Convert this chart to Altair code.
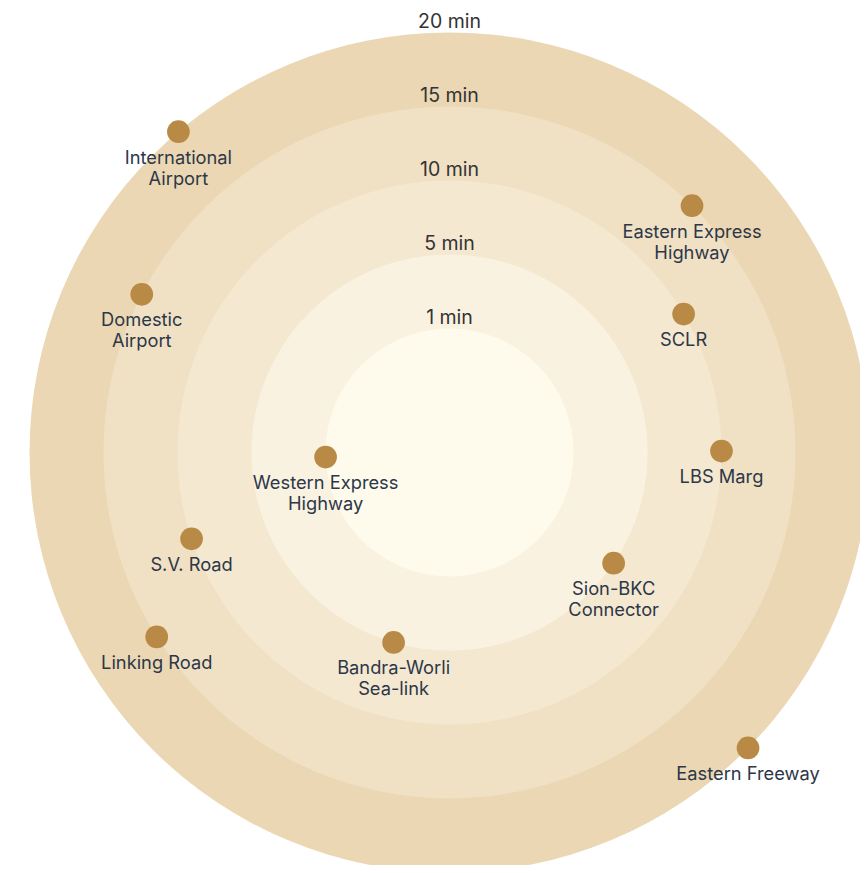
import altair as alt
import pandas as pd

# Rings (travel time bands), outermost first
ring_minutes = [20, 15, 10, 5, 1]
ring_colors = ["#EBD7B3", "#F0E1C5", "#F4E8D1", "#FAF2E0", "#FEFBEC"]

# Locations: name, travel time (min), bearing (degrees clockwise from north)
places = [
    "International\nAirport", "Domestic\nAirport", "Eastern Express\nHighway",
    "SCLR", "LBS Marg", "Sion-BKC\nConnector", "Western Express\nHighway",
    "S.V. Road", "Linking Road", "Bandra-Worli\nSea-link", "Eastern Freeway",
]
place_minutes = [20, 15, 15, 10, 10, 5, 1, 10, 15, 5, 20]
place_bearing = [319.8, 297.2, 44.5, 59.4, 89.7, 124.0, 267.9, 251.5, 237.8, 196.4, 134.7]

order = sorted(ring_minutes)
rank_of = {m: i + 1 for i, m in enumerate(order)}

rings = pd.DataFrame({
    "minutes": ring_minutes,
    "label": [f"{m} min" for m in ring_minutes],
    "rank": [rank_of[m] for m in ring_minutes],
    "color": ring_colors,
})
pts = pd.DataFrame({
    "place": places,
    "minutes": place_minutes,
    "rank": [rank_of[m] for m in place_minutes],
    "bearing": place_bearing,
})

W, H = 852, 857
CX, CY = 441.5, 444.5
R0, R5 = 50, 420          # radial scale range (pixels) for rank 0..5
STEP = (R5 - R0) / 5
rscale = alt.Scale(type="linear", domain=[0, 5], range=[R0, R5], zero=False)
tscale = alt.Scale(type="linear", domain=[0, 360], range=[0, 6.283185307])

base_xy = dict(x=alt.value(CX), y=alt.value(CY))

ring_layer = alt.Chart(rings).mark_arc(theta=0, theta2=6.2832).encode(
    radius=alt.Radius("rank:Q", scale=rscale, stack=False),
    radius2=alt.value(0),
    color=alt.Color("color:N", scale=None),
    **base_xy,
)

ring_text = alt.Chart(rings).mark_text(
    font="Inter", fontSize=19.5, color="#333333", baseline="alphabetic", dy=-5, align="center"
).encode(
    radius=alt.Radius("rank:Q", scale=rscale, stack=False),
    theta=alt.value(0),
    text="label:N",
    **base_xy,
)

# Dots: polar (rank, bearing) converted to cartesian in "rank units",
# mapped by x/y scales that share the radial step and center
xscale = alt.Scale(domain=[-CX / STEP, (W - CX) / STEP], range=[0, W], zero=False, nice=False)
yscale = alt.Scale(domain=[-(H - CY) / STEP, CY / STEP], range=[H, 0], zero=False, nice=False)

dots = alt.Chart(pts).transform_calculate(
    ur=f"datum.rank + {R0 / STEP}",
).transform_calculate(
    ux="datum.ur * sin(datum.bearing * PI / 180)",
    uy="datum.ur * cos(datum.bearing * PI / 180)",
).mark_circle(size=515, opacity=1, color="#B98A45").encode(
    x=alt.X("ux:Q", scale=xscale, axis=None),
    y=alt.Y("uy:Q", scale=yscale, axis=None),
)

labels = alt.Chart(pts).mark_text(
    font="Inter", fontSize=18.3, color="#2D3748", baseline="alphabetic", dy=32,
    lineBreak="\n", lineHeight=21, align="center"
).encode(
    radius=alt.Radius("rank:Q", scale=rscale, stack=False),
    theta=alt.Theta("bearing:Q", stack=False, scale=tscale),
    text="place:N",
    **base_xy,
)

chart = alt.layer(ring_layer, ring_text, dots, labels).properties(
    width=W, height=H, padding=0, autosize=alt.AutoSizeParams(type="none")
).configure_view(strokeWidth=0)

chart.save("out.html", embed_options={"renderer": "svg", "actions": False})
